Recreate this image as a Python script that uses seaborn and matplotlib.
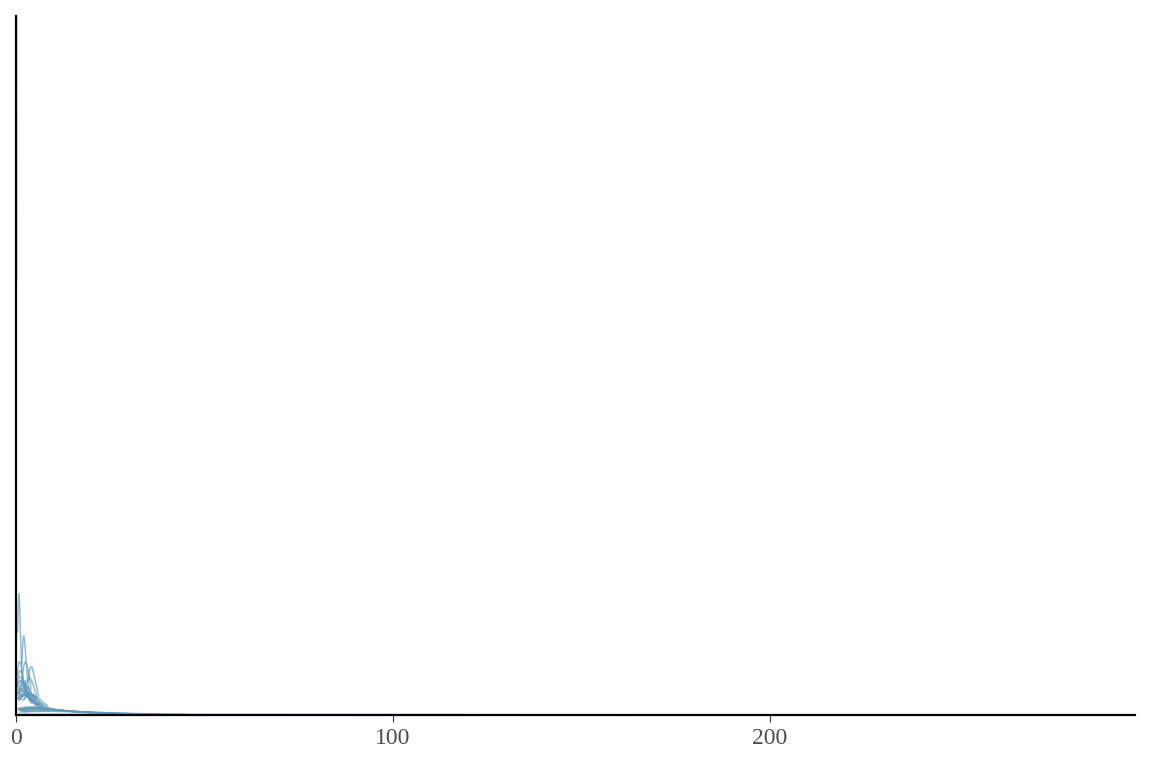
import numpy as np
import pandas as pd
import seaborn as sns
import matplotlib
matplotlib.use("Agg")
import matplotlib.pyplot as plt

# narrow series, mass between 0 and ~6
narrow01 = [0.45, 0.57, 0.69, 0.81, 0.93, 1.05, 1.29, 1.65]
narrow02 = [1.55, 1.8, 1.95, 2.1, 2.25, 2.5, 2.9, 3.45]
narrow03 = [0.3, 0.6, 1.0, 1.4, 1.9, 2.5, 3.2, 4.0]
narrow04 = [0.8, 1.2, 1.7, 2.3, 2.8, 3.4, 4.1, 5.0]
narrow05 = [2.0, 2.5, 3.0, 3.4, 3.8, 4.2, 4.8, 5.5]
narrow06 = [0.2, 0.4, 0.7, 1.1, 1.5, 2.0, 2.8, 3.9]
narrow07 = [1.0, 1.5, 2.2, 2.9, 3.7, 4.4, 5.2, 6.3]
narrow08 = [0.4, 0.7, 0.9, 1.2, 1.6, 2.1, 2.7, 3.5]
narrow09 = [3.2, 3.5, 3.8, 4.1, 4.4, 4.8, 5.3, 6.0]
narrow10 = [0.6, 1.1, 1.6, 2.0, 2.4, 3.0, 3.6, 4.5]
narrow11 = [0.3, 0.5, 0.8, 1.0, 1.3, 1.7, 2.2, 2.9]
narrow12 = [1.2, 1.9, 2.5, 3.1, 3.9, 4.8, 5.7, 7.0]
narrow13 = [0.5, 0.9, 1.4, 1.8, 2.3, 2.9, 3.8, 5.2]
narrow14 = [2.2, 2.7, 3.4, 4.1, 4.9, 5.8, 6.9, 8.3]
narrow15 = [0.4, 0.8, 1.2, 1.7, 2.5, 3.4, 4.6, 6.0]
narrow16 = [1.6, 1.9, 2.2, 2.5, 2.8, 3.1, 3.5, 4.0]
narrow17 = [0.7, 1.3, 1.9, 2.6, 3.5, 4.5, 5.9, 7.6]
narrow18 = [0.2, 0.5, 0.9, 1.3, 1.8, 2.4, 3.1, 4.3]
narrow19 = [0.9, 1.4, 2.0, 2.7, 3.5, 4.6, 6.0, 8.0]
narrow20 = [0.3, 0.7, 1.2, 1.9, 2.7, 3.8, 5.1, 7.0]
narrow21 = [1.8, 2.4, 3.0, 3.7, 4.5, 5.6, 7.0, 9.0]
narrow22 = [0.5, 1.0, 1.5, 2.1, 2.9, 3.9, 5.3, 7.4]
narrow23 = [1.1, 1.6, 2.1, 2.6, 3.1, 3.8, 4.6, 5.8]
narrow24 = [0.3, 0.6, 1.1, 1.6, 2.2, 3.0, 4.1, 5.6]
# broad series, tails out to ~45
broad01 = [0.5, 1.5, 3.0, 4.5, 6.5, 9.0, 12.5, 18.0]
broad02 = [1.0, 2.5, 4.0, 6.0, 8.5, 11.5, 16.0, 23.0]
broad03 = [0.8, 2.0, 3.5, 5.5, 8.0, 12.0, 17.5, 26.0]
broad04 = [1.5, 3.0, 5.0, 7.5, 10.5, 14.5, 20.0, 30.0]
broad05 = [0.6, 1.8, 3.2, 5.0, 7.2, 10.0, 14.0, 20.0]
broad06 = [2.0, 4.0, 6.5, 9.5, 13.0, 18.0, 25.0, 38.0]
broad07 = [1.0, 3.0, 5.5, 8.5, 12.5, 18.0, 27.0, 45.0]
broad08 = [0.7, 1.9, 3.4, 5.2, 7.4, 10.3, 14.6, 21.0]
broad09 = [1.2, 2.6, 4.3, 6.4, 9.1, 12.8, 18.2, 28.0]
# one long-tailed series and one spike right at zero
long_tail = [0.5, 1.2, 2.4, 4.0, 7.5, 15.0, 32.0, 70.0, 150.0, 297.0]
spike = [0.0, 0.025, 0.05, 0.075, 0.1, 0.12, 0.145, 0.17]

all_series = [narrow01, narrow02, narrow03, narrow04, narrow05, narrow06,
              narrow07, narrow08, narrow09, narrow10, narrow11, narrow12,
              narrow13, narrow14, narrow15, narrow16, narrow17, narrow18,
              narrow19, narrow20, narrow21, narrow22, narrow23, narrow24,
              broad01, broad02, broad03, broad04, broad05, broad06, broad07,
              broad08, broad09, long_tail, spike]
x_ticks = [0, 100, 200]

rows = []
for i, vals in enumerate(all_series):
    for v in vals:
        rows.append({"group": f"s{i + 1:02d}", "value": v})
df = pd.DataFrame(rows)

sns.set_theme(style="white")
plt.rcParams["font.family"] = ["Liberation Serif", "DejaVu Serif"]

fig = plt.figure(figsize=(11.52, 7.68), dpi=100)
ax = fig.add_axes([0.0139, 0.069, 0.9714, 0.910])

line_color = "#5e98ba"
n_groups = df["group"].nunique()
sns.kdeplot(data=df, x="value", hue="group", palette=[line_color] * n_groups,
            common_norm=False, cut=0, alpha=0.65, linewidth=1.1,
            legend=False, ax=ax)

ax.margins(x=0, y=0)
ax.set_xlim(left=0)
ax.set_ylim(bottom=0)
ax.set_xticks(x_ticks)
ax.set_xticklabels([str(t) for t in x_ticks])
ax.set_yticks([])
ax.set_xlabel("")
ax.set_ylabel("")

for side in ["top", "right"]:
    ax.spines[side].set_visible(False)
for side in ["left", "bottom"]:
    ax.spines[side].set_color("black")
    ax.spines[side].set_linewidth(1.6)

ax.tick_params(axis="x", bottom=True, length=5, width=0.8, color="#333333",
               labelsize=17, labelcolor="#4d4d4d", pad=4)

fig.savefig("out.png", dpi=100)
